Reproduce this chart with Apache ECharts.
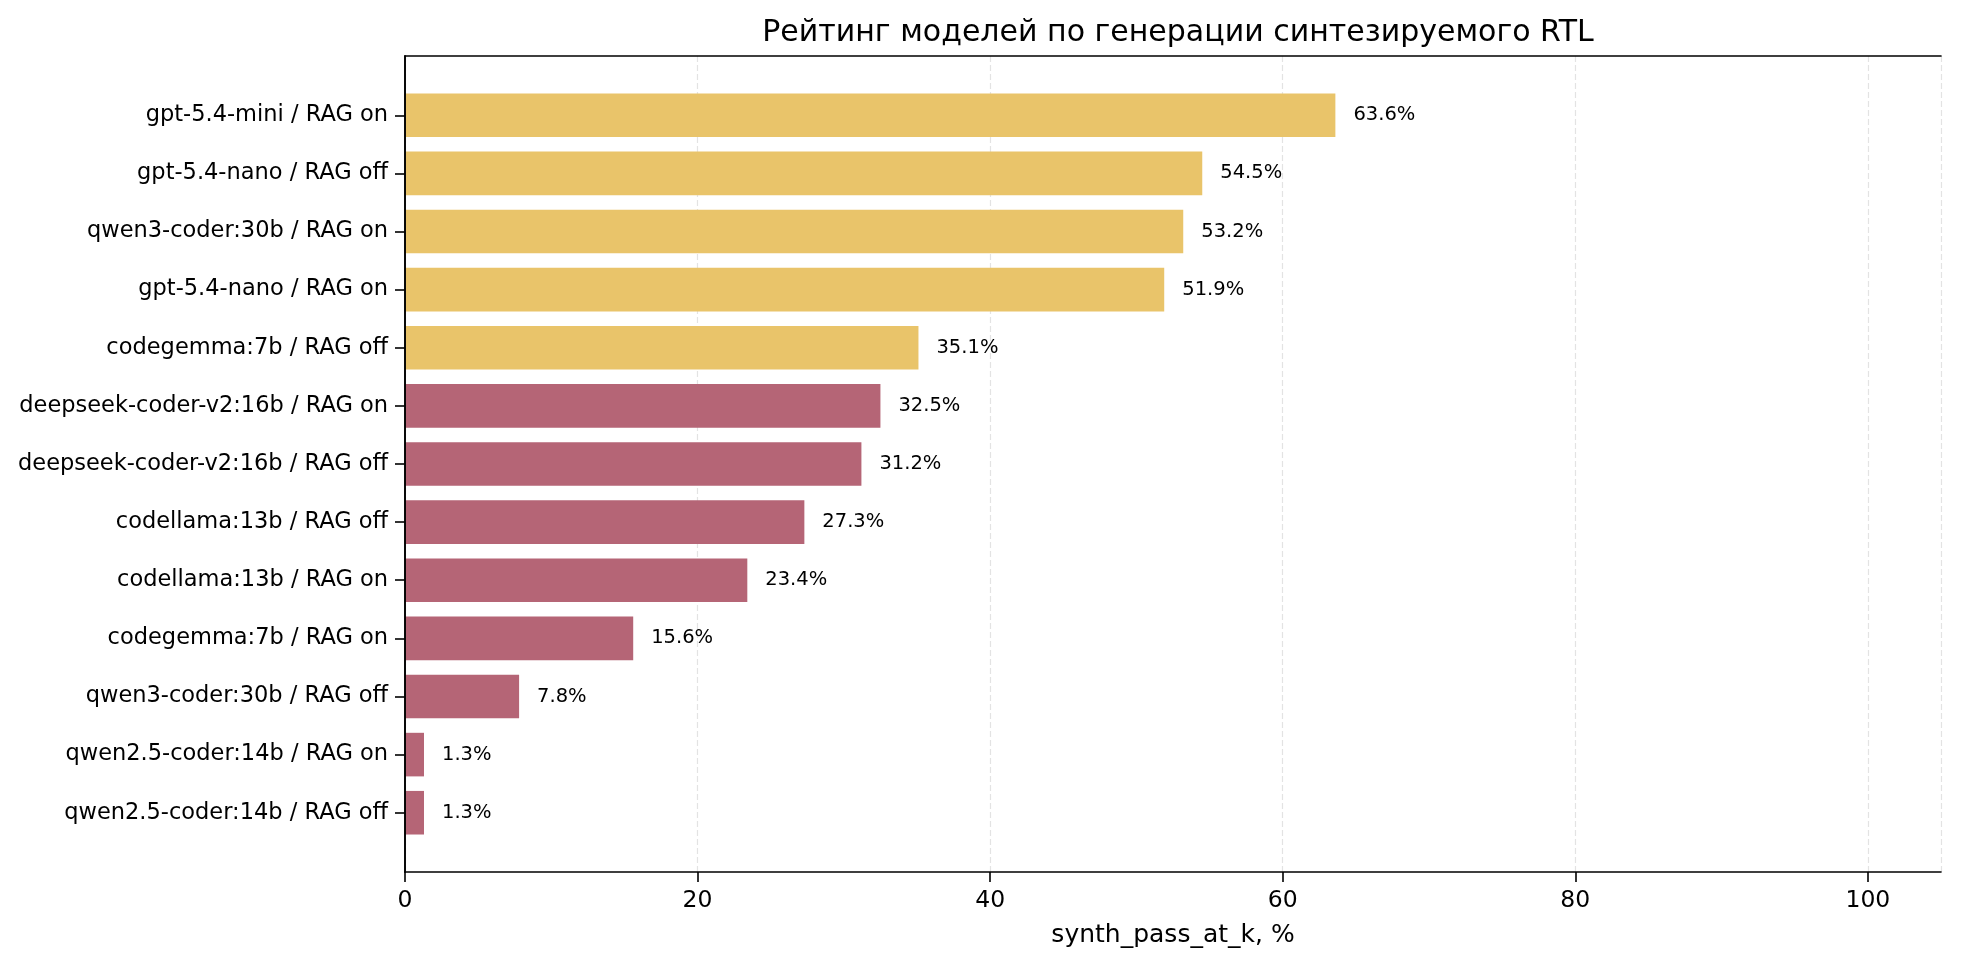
<!DOCTYPE html>
<html>
<head>
<meta charset="utf-8">
<script src="https://cdn.jsdelivr.net/npm/echarts@6/dist/echarts.min.js"></script>
<style>
html,body{margin:0;padding:0;background:#fff;}
#chart{width:1961px;height:968px;}
</style>
</head>
<body>
<div id="chart"></div>
<script>
const categories = [
  'gpt-5.4-mini / RAG on',
  'gpt-5.4-nano / RAG off',
  'qwen3-coder:30b / RAG on',
  'gpt-5.4-nano / RAG on',
  'codegemma:7b / RAG off',
  'deepseek-coder-v2:16b / RAG on',
  'deepseek-coder-v2:16b / RAG off',
  'codellama:13b / RAG off',
  'codellama:13b / RAG on',
  'codegemma:7b / RAG on',
  'qwen3-coder:30b / RAG off',
  'qwen2.5-coder:14b / RAG on',
  'qwen2.5-coder:14b / RAG off'
];
const values = [63.6, 54.5, 53.2, 51.9, 35.1, 32.5, 31.2, 27.3, 23.4, 15.6, 7.8, 1.3, 1.3];
const tiers = ['top','top','top','top','top','rest','rest','rest','rest','rest','rest','rest','rest'];
const xTicks = [0, 20, 40, 60, 80, 100];
const titleText = 'Рейтинг моделей по генерации синтезируемого RTL';
const xName = 'synth_pass_at_k, %';

const tierColor = { top: '#E9C46A', rest: '#B56576' };
const FONT = 'DejaVu Sans';
const L = 405, R = 20, T = 56, H = 816;
const unit = H / 14.04;
const inset = unit * 0.52;

const chart = echarts.init(document.getElementById('chart'));
const lineStyle = { color: '#000', width: 1.6 };
chart.setOption({
  animation: false,
  backgroundColor: '#fff',
  textStyle: { fontFamily: FONT },
  title: {
    text: titleText,
    left: L + (1961 - L - R) / 2,
    textAlign: 'center',
    top: 13,
    textStyle: { fontFamily: FONT, fontSize: 30, fontWeight: 'normal', color: '#000' }
  },
  grid: [
    { left: L, right: R, top: T, height: H },
    { left: L, right: R, top: T + inset, height: H - 2 * inset }
  ],
  xAxis: [
    { gridIndex: 0, type: 'value', min: 0, max: 105, interval: 20, position: 'bottom', z: 0,
      axisLine: { show: false }, axisTick: { show: false }, axisLabel: { show: false },
      splitLine: { show: true, lineStyle: { color: '#e3e3e3', width: 1.2, type: [6, 3] } } },
    { gridIndex: 0, type: 'value', min: 0, max: 105, interval: 20, position: 'bottom', z: 5,
      axisLine: { show: true, lineStyle: lineStyle },
      axisTick: { show: true, length: 10, lineStyle: lineStyle, customValues: xTicks },
      axisLabel: { show: true, margin: 17, fontSize: 23.5, color: '#000', fontFamily: FONT, customValues: xTicks },
      splitLine: { show: false },
      name: xName, nameLocation: 'middle', nameGap: 51,
      nameTextStyle: { fontSize: 25, color: '#000', fontFamily: FONT } },
    { gridIndex: 0, type: 'value', min: 0, max: 105, position: 'top', z: 5,
      axisLine: { show: true, lineStyle: lineStyle }, axisTick: { show: false },
      axisLabel: { show: false }, splitLine: { show: false } },
    { gridIndex: 1, type: 'value', min: 0, max: 105, show: false }
  ],
  yAxis: [
    { gridIndex: 0, type: 'value', min: 0, max: 1, position: 'left', z: 5,
      axisLine: { show: true, lineStyle: lineStyle }, axisTick: { show: false },
      axisLabel: { show: false }, splitLine: { show: false } },
    { gridIndex: 0, type: 'value', min: 0, max: 1, position: 'right', z: 5,
      axisLine: { show: true, lineStyle: lineStyle }, axisTick: { show: false },
      axisLabel: { show: false }, splitLine: { show: false } },
    { gridIndex: 1, type: 'category', data: categories, inverse: true, position: 'left',
      axisLine: { show: false },
      axisTick: { show: true, alignWithLabel: true, length: 10, lineStyle: lineStyle },
      axisLabel: { show: true, margin: 17, fontSize: 22.5, color: '#000', fontFamily: FONT },
      splitLine: { show: false } }
  ],
  series: [{
    type: 'bar',
    xAxisIndex: 3,
    yAxisIndex: 2,
    barWidth: '75%',
    data: values.map((v, i) => ({ value: v, itemStyle: { color: tierColor[tiers[i]] } })),
    label: {
      show: true, position: 'right', distance: 18,
      fontSize: 19.5, color: '#000', fontFamily: FONT,
      formatter: p => p.value.toFixed(1) + '%'
    }
  }]
});
</script>
</body>
</html>
